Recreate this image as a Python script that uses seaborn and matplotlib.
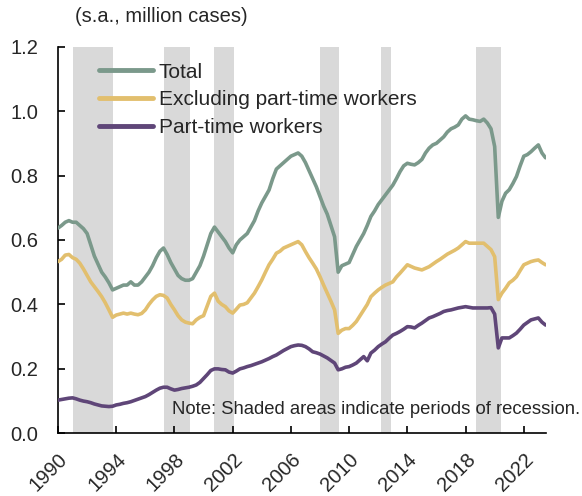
import numpy as np
import pandas as pd
import matplotlib
matplotlib.use("Agg")
import matplotlib.pyplot as plt
import matplotlib.dates as mdates
import seaborn as sns

# ---------------- data (quarterly, Jan/Apr/Jul/Oct) ----------------
start = "1990-01-01"
total = [
    0.637, 0.645, 0.655, 0.660,  # 1990
    0.655, 0.655, 0.645, 0.635,  # 1991
    0.620, 0.585, 0.550, 0.525,  # 1992
    0.500, 0.485, 0.467, 0.445,  # 1993
    0.450, 0.455, 0.460, 0.460,  # 1994
    0.470, 0.460, 0.460, 0.470,  # 1995
    0.485, 0.500, 0.520, 0.545,  # 1996
    0.565, 0.575, 0.555, 0.530,  # 1997
    0.510, 0.490, 0.480, 0.475,  # 1998
    0.475, 0.480, 0.500, 0.520,  # 1999
    0.550, 0.585, 0.620, 0.640,  # 2000
    0.625, 0.610, 0.595, 0.575,  # 2001
    0.560, 0.585, 0.600, 0.610,  # 2002
    0.620, 0.640, 0.660, 0.690,  # 2003
    0.715, 0.735, 0.755, 0.790,  # 2004
    0.820, 0.830, 0.840, 0.850,  # 2005
    0.860, 0.865, 0.870, 0.860,  # 2006
    0.840, 0.815, 0.790, 0.765,  # 2007
    0.735, 0.705, 0.680, 0.645,  # 2008
    0.610, 0.500, 0.520, 0.525,  # 2009
    0.530, 0.555, 0.580, 0.600,  # 2010
    0.620, 0.645, 0.673, 0.690,  # 2011
    0.710, 0.725, 0.740, 0.755,  # 2012
    0.770, 0.790, 0.812, 0.830,  # 2013
    0.838, 0.835, 0.833, 0.840,  # 2014
    0.850, 0.870, 0.885, 0.895,  # 2015
    0.900, 0.910, 0.920, 0.935,  # 2016
    0.945, 0.950, 0.957, 0.975,  # 2017
    0.985, 0.975, 0.973, 0.970,  # 2018
    0.968, 0.975, 0.963, 0.945,  # 2019
    0.890, 0.670, 0.720, 0.745,  # 2020
    0.756, 0.775, 0.797, 0.830,  # 2021
    0.860, 0.865, 0.874, 0.885,  # 2022
    0.895, 0.870, 0.855,         # 2023
]
excluding = [
    0.533, 0.540, 0.553, 0.555,
    0.545, 0.540, 0.528, 0.510,
    0.490, 0.470, 0.455, 0.440,
    0.424, 0.405, 0.383, 0.360,
    0.367, 0.370, 0.373, 0.370,
    0.373, 0.370, 0.368, 0.372,
    0.383, 0.400, 0.414, 0.425,
    0.430, 0.428, 0.420, 0.400,
    0.383, 0.365, 0.352, 0.345,
    0.342, 0.340, 0.352, 0.360,
    0.365, 0.395, 0.425, 0.435,
    0.410, 0.400, 0.393, 0.380,
    0.373, 0.385, 0.398, 0.400,
    0.405, 0.420, 0.435, 0.455,
    0.476, 0.500, 0.523, 0.540,
    0.559, 0.565, 0.575, 0.580,
    0.585, 0.590, 0.595, 0.585,
    0.564, 0.545, 0.528, 0.510,
    0.486, 0.460, 0.435, 0.410,
    0.383, 0.310, 0.320, 0.325,
    0.325, 0.335, 0.347, 0.365,
    0.383, 0.400, 0.424, 0.435,
    0.445, 0.453, 0.460, 0.465,
    0.470, 0.485, 0.497, 0.510,
    0.523, 0.518, 0.513, 0.510,
    0.507, 0.512, 0.517, 0.525,
    0.533, 0.540, 0.548, 0.556,
    0.562, 0.568, 0.575, 0.585,
    0.595, 0.590, 0.590, 0.590,
    0.590, 0.590, 0.580, 0.570,
    0.548, 0.415, 0.435, 0.450,
    0.467, 0.475, 0.486, 0.505,
    0.523, 0.528, 0.533, 0.536,
    0.538, 0.530, 0.523,
]
parttime = [
    0.103, 0.105, 0.107, 0.109,
    0.110, 0.107, 0.103, 0.100,
    0.098, 0.095, 0.091, 0.088,
    0.085, 0.084, 0.083, 0.084,
    0.088, 0.090, 0.093, 0.095,
    0.098, 0.102, 0.106, 0.110,
    0.114, 0.120, 0.127, 0.134,
    0.140, 0.143, 0.143, 0.138,
    0.134, 0.136, 0.139, 0.141,
    0.143, 0.146, 0.150, 0.158,
    0.170, 0.182, 0.195, 0.200,
    0.200, 0.198, 0.197, 0.190,
    0.187, 0.193, 0.200, 0.203,
    0.207, 0.210, 0.214, 0.218,
    0.222, 0.227, 0.232, 0.238,
    0.243, 0.250, 0.257, 0.263,
    0.269, 0.272, 0.274, 0.273,
    0.269, 0.262, 0.253, 0.250,
    0.246, 0.240, 0.234, 0.226,
    0.218, 0.197, 0.200, 0.205,
    0.207, 0.212, 0.218, 0.228,
    0.238, 0.225, 0.249, 0.258,
    0.269, 0.277, 0.284, 0.295,
    0.305, 0.310, 0.316, 0.323,
    0.331, 0.330, 0.327, 0.335,
    0.342, 0.350, 0.358, 0.362,
    0.367, 0.372, 0.378, 0.381,
    0.383, 0.386, 0.389, 0.391,
    0.393, 0.391, 0.389, 0.389,
    0.389, 0.389, 0.389, 0.390,
    0.370, 0.265, 0.296, 0.296,
    0.296, 0.303, 0.311, 0.323,
    0.336, 0.344, 0.352, 0.355,
    0.358, 0.345, 0.336,
]
series_names = ["Total", "Excluding part-time workers", "Part-time workers"]
colors = ["#7B998B", "#E2BF6E", "#5F4678"]

recession_start = ["1991-01-15", "1997-04-01", "2000-10-01", "2008-01-01", "2012-03-01", "2018-09-15"]
recession_end = ["1993-10-15", "1999-01-20", "2002-02-01", "2009-04-10", "2012-11-20", "2020-06-10"]

year_ticks = [1990, 1994, 1998, 2002, 2006, 2010, 2014, 2018, 2022]
yticks = [0.0, 0.2, 0.4, 0.6, 0.8, 1.0, 1.2]

# ---------------- build frame ----------------
dates = pd.date_range(start, periods=len(total), freq="QS")
df = pd.DataFrame({"date": dates,
                   series_names[0]: total,
                   series_names[1]: excluding,
                   series_names[2]: parttime})
long = df.melt(id_vars="date", var_name="series", value_name="value")

# ---------------- plot ----------------
sns.set_theme(style="white")
plt.rcParams["font.family"] = ["Liberation Sans", "DejaVu Sans"]

fig = plt.figure(figsize=(5.82, 4.96), dpi=100)
ax = fig.add_axes([0.0997, 0.1264, 0.8383, 0.7796])

for s, e in zip(recession_start, recession_end):
    ax.axvspan(pd.Timestamp(s), pd.Timestamp(e), color="#D9D9D9", lw=0, zorder=0)

sns.lineplot(data=long, x="date", y="value", hue="series", hue_order=series_names,
             palette=colors, linewidth=2.6, ax=ax, zorder=3)

ax.set_ylim(0, 1.2)
ax.set_xlim(pd.Timestamp("1990-01-01"), pd.Timestamp("2023-07-10"))
ax.set_yticks(yticks)
ax.set_yticklabels([f"{v:.1f}" for v in yticks])
ax.set_xticks([pd.Timestamp(f"{y}-01-01") for y in year_ticks])
ax.set_xticklabels([str(y) for y in year_ticks], rotation=45, ha="right",
                   rotation_mode="anchor")
ax.set_xlabel("")
ax.set_ylabel("")

for sp in ["top", "right"]:
    ax.spines[sp].set_visible(False)
for sp in ["left", "bottom"]:
    ax.spines[sp].set_color("black")
    ax.spines[sp].set_linewidth(1.2)

ax.tick_params(axis="y", direction="in", length=5, width=1.2, color="black",
               labelsize=14.5, pad=14, left=True)
ax.tick_params(axis="x", direction="in", length=5, width=1.2, color="black",
               labelsize=14.5, pad=12, bottom=True)

leg = ax.legend(loc="upper left", bbox_to_anchor=(0.066, 0.98), frameon=False,
                fontsize=15, handlelength=2.6, handletextpad=0.3,
                labelspacing=0.42, borderaxespad=0)
for line in leg.get_lines():
    line.set_linewidth(3.5)

fig.text(75 / 582, 1 - 17 / 496, "(s.a., million cases)", fontsize=14.5,
         ha="left", va="center")
fig.text(580 / 582, 1 - 410 / 496, "Note: Shaded areas indicate periods of recession.",
         fontsize=13.3, ha="right", va="center")

fig.savefig("out.png", dpi=100)
